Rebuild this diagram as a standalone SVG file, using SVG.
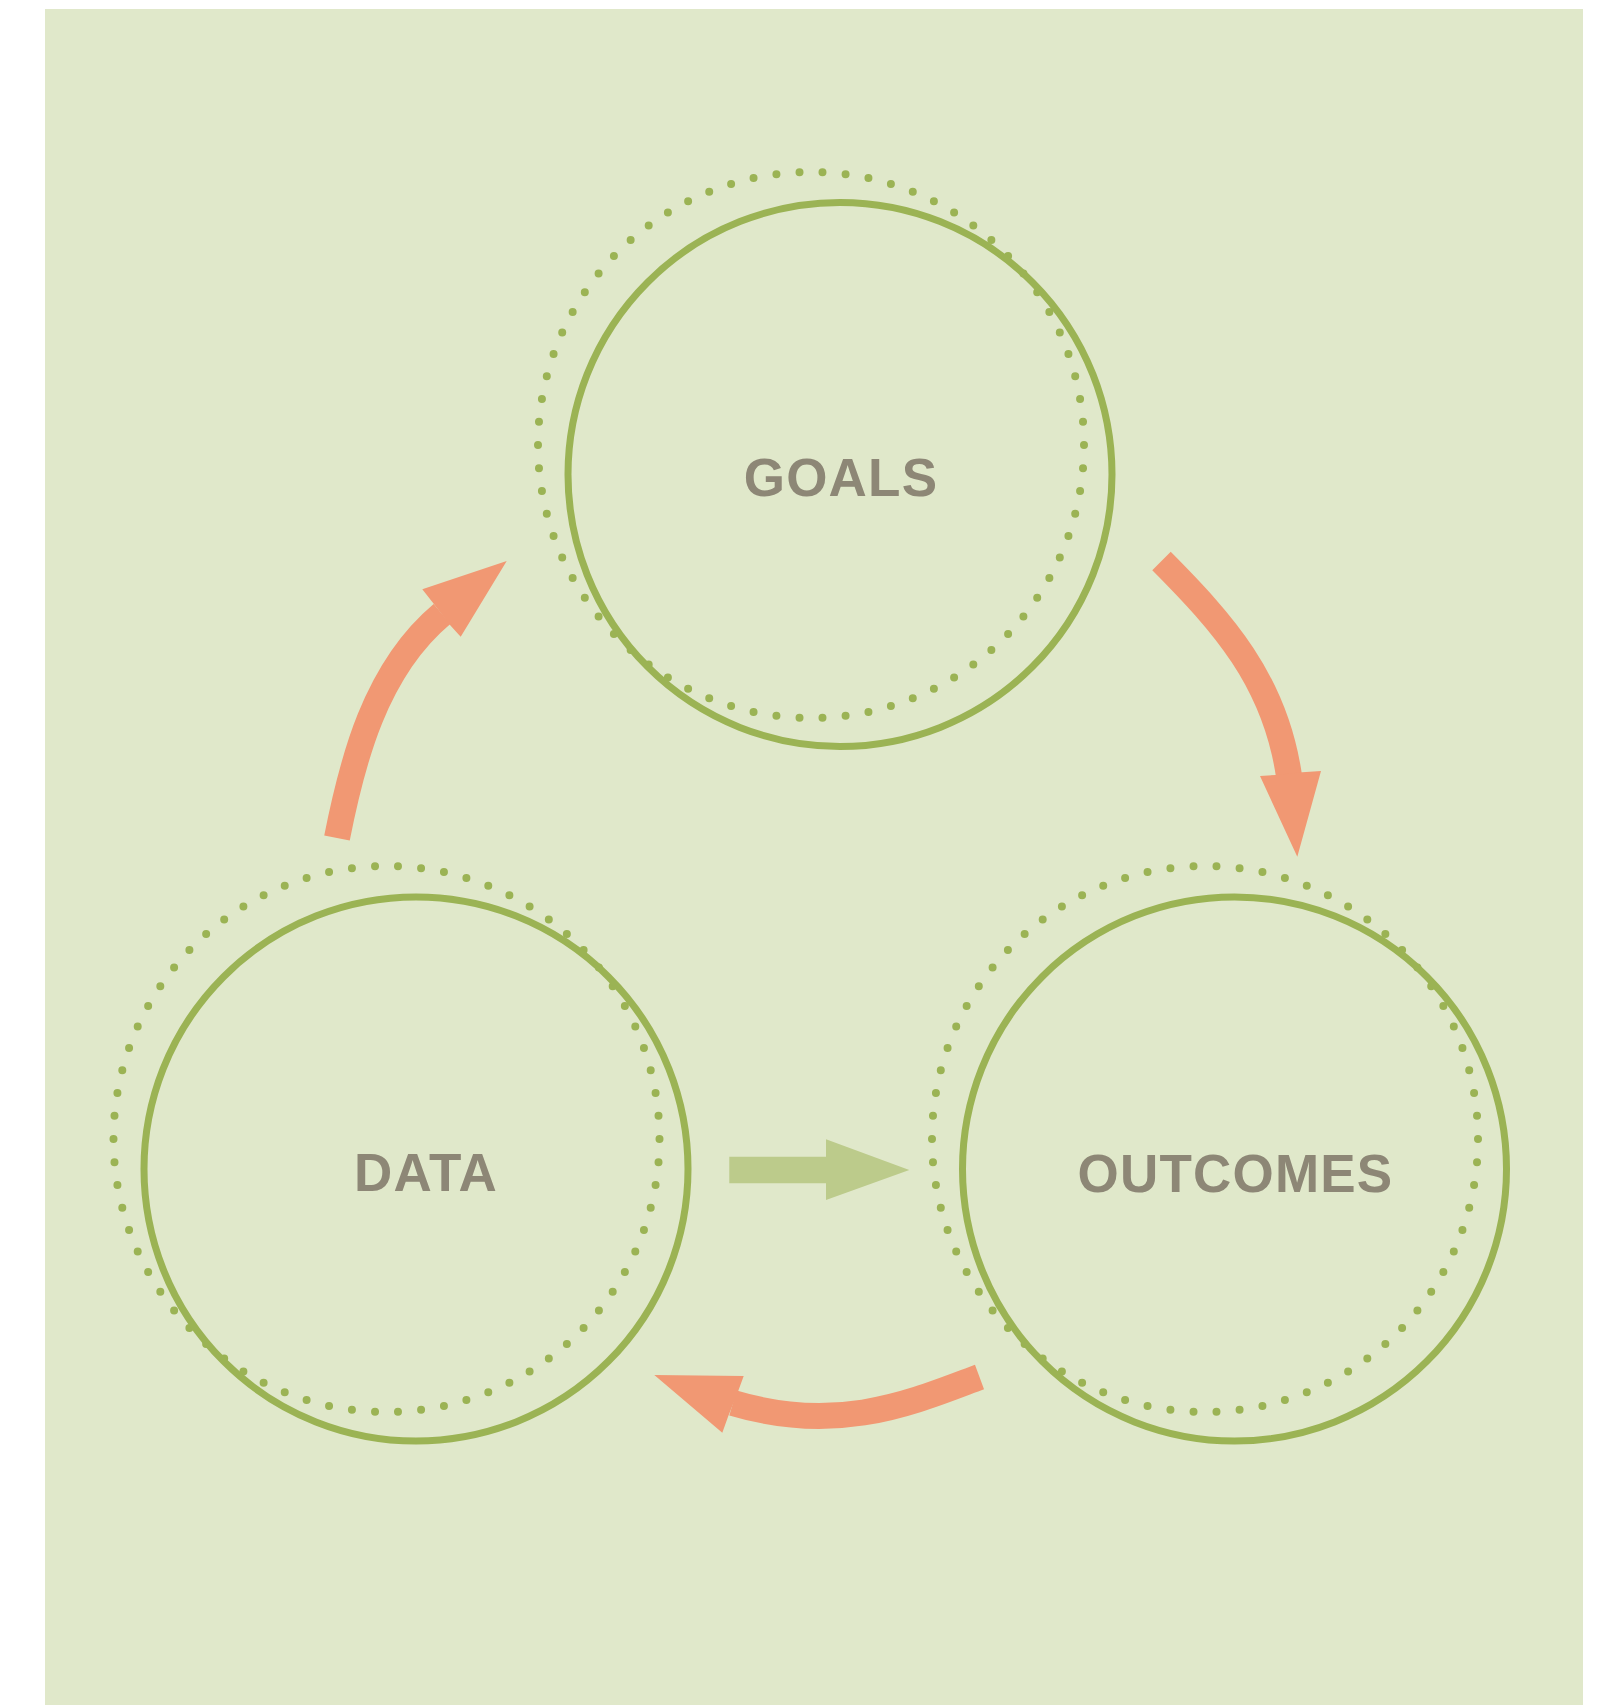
<svg xmlns="http://www.w3.org/2000/svg" width="1599" height="1705" viewBox="0 0 1599 1705">
<style>
.solid{fill:none;stroke:#9BB354;stroke-width:7}
.dots{fill:none;stroke:#9BB354;stroke-width:8;stroke-linecap:round;stroke-dasharray:0 1}
.lbl{font-family:"Liberation Sans",Arial,sans-serif;font-weight:bold;font-size:53px;fill:#8D8776;text-anchor:middle;letter-spacing:1.2px}
.shaft{fill:none;stroke:#F19873;stroke-width:26}
.head{fill:#F19873}
</style>
<rect x="0" y="0" width="1599" height="1705" fill="#FFFFFF"/>
<rect x="45" y="9" width="1538" height="1696" fill="#E0E8CA"/>
<g id="goals">
<circle class="dots" cx="811" cy="445" r="273" pathLength="74"/>
<circle class="solid" cx="840" cy="474.5" r="272"/>
<text class="lbl" x="841" y="496">GOALS</text>
</g>
<g id="data">
<circle class="dots" cx="386.5" cy="1139" r="273" pathLength="74"/>
<circle class="solid" cx="416" cy="1169" r="272"/>
<text class="lbl" x="426" y="1191">DATA</text>
</g>
<g id="outcomes">
<circle class="dots" cx="1205" cy="1139" r="273" pathLength="74"/>
<circle class="solid" cx="1234.5" cy="1169" r="272"/>
<text class="lbl" x="1235.5" y="1192">OUTCOMES</text>
</g>
<g id="connectors">
<path class="shaft" d="M337,838 C352,762 375,670 442,614"/>
<polygon class="head" points="422.3,589.3 506.7,561 460.7,636.7 450,625 433.3,603.3"/>
<path class="shaft" d="M1161.5,561 C1222,622 1275,680 1289,776"/>
<polygon class="head" points="1260,776 1275.7,775 1302.3,772.3 1321,771 1297.3,856.7"/>
<path class="shaft" d="M979.5,1377 C915,1401 840,1435 733,1403"/>
<polygon class="head" points="654.3,1375 743.7,1376 738.3,1390.7 728.3,1416 722.3,1432.7"/>
<polygon fill="#BCCB8B" points="729.3,1156.7 826,1156.7 826,1139.3 909.3,1170 826,1200 826,1183.3 729.3,1183.3"/>
</g>
</svg>
